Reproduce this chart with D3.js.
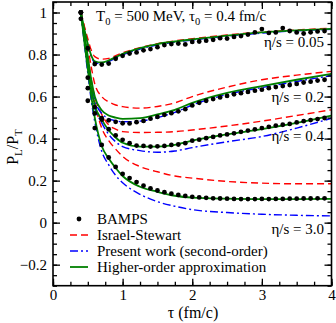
<!DOCTYPE html>
<html><head><meta charset="utf-8">
<script src="https://cdn.jsdelivr.net/npm/d3@7"></script>
<style>
html,body{margin:0;padding:0;background:#fff;}
text{font-family:"Liberation Serif","Times New Roman",serif;fill:#000;}
</style></head>
<body><svg id="c" width="336" height="323"></svg>
<script>
// ---- data ----
const curveTau = [0.4,0.45,0.5,0.55,0.6,0.7,0.8,0.9,1.0,1.25,1.5,1.75,2,2.5,3,3.5,4];
const green005 = [1,.92,.85,.795,.768,.762,.772,.788,.803,.83,.85,.862,.872,.89,.905,.915,.922];
const red005   = [1,.935,.875,.82,.79,.778,.782,.795,.808,.833,.852,.865,.875,.893,.907,.917,.925];
const blue005  = [1,.915,.845,.79,.762,.756,.766,.782,.798,.826,.846,.859,.869,.887,.902,.913,.92];
const green02  = [1,.9,.79,.68,.6,.535,.51,.5,.494,.497,.515,.537,.57,.618,.65,.68,.708];
const red02    = [1,.93,.84,.74,.66,.6,.575,.56,.552,.545,.553,.57,.6,.645,.68,.702,.72];
const blue02   = [1,.895,.78,.665,.585,.52,.495,.485,.48,.483,.5,.525,.56,.61,.643,.672,.7];
const green04  = [1,.88,.76,.64,.56,.49,.44,.405,.38,.362,.362,.37,.39,.42,.445,.475,.51];
const red04    = [1,.92,.8,.68,.6,.515,.465,.445,.433,.429,.43,.433,.441,.46,.483,.51,.537];
const blue04   = [1,.875,.75,.63,.55,.475,.42,.385,.362,.343,.335,.341,.357,.385,.41,.45,.497];
const green30  = [1,.86,.73,.6,.5,.365,.305,.26,.222,.171,.147,.128,.119,.114,.112,.112,.113];
const red30    = [1,.9,.78,.66,.57,.45,.39,.35,.315,.267,.242,.222,.212,.196,.188,.185,.185];
const blue30   = [1,.85,.71,.58,.48,.34,.275,.225,.19,.135,.1,.078,.062,.048,.04,.035,.032];

const bampsTau = [0.4,0.5,0.6,0.7,0.8,0.9,1.0,1.1,1.2,1.3,1.4,1.5,1.6,1.7,1.8,1.9,2.0,2.1,2.2,2.3,2.4,2.5,2.6,2.7,2.8,2.9,3.0,3.1,3.2,3.3,3.4,3.5,3.6,3.7,3.8,3.9];
const bamps005 = [1.0,.83,.755,.752,.757,.78,.794,.805,.81,.82,.826,.835,.845,.85,.852,.848,.86,.862,.866,.87,.878,.876,.884,.888,.895,.905,.921,.903,.905,.926,.912,.905,.9,.906,.91,.912];
const bamps02  = [.97,.69,.52,.497,.487,.48,.473,.472,.478,.484,.495,.503,.513,.521,.53,.54,.558,.57,.58,.588,.596,.603,.611,.616,.622,.628,.633,.64,.645,.65,.655,.66,.667,.671,.676,.68];
const bamps04  = [1.0,.64,.55,.49,.445,.415,.394,.378,.367,.365,.362,.363,.365,.37,.372,.378,.39,.395,.402,.408,.415,.42,.425,.432,.438,.444,.45,.456,.462,.466,.47,.477,.483,.488,.493,.498];
const bamps30  = [1.0,.58,.45,.37,.31,.265,.232,.212,.193,.176,.163,.153,.145,.138,.132,.127,.123,.12,.118,.116,.115,.114,.113,.112,.112,.112,.113,.112,.113,.113,.114,.114,.115,.115,.116,.116];

const groupLabels = ["η/s = 0.05","η/s = 0.2","η/s = 0.4","η/s = 3.0"];
const xTicks = [0,1,2,3,4];
const yTicks = [-0.2,0,0.2,0.4,0.6,0.8,1];
const legendNames = ["BAMPS","Israel-Stewart","Present work (second-order)","Higher-order approximation"];

// ---- chart ----
const svg = d3.select("#c");
const L=53, R=331.5, T=2, B=285.7;
const x = d3.scaleLinear().domain([0,4]).range([L,R]);
const y = d3.scaleLinear().domain([-0.3,1.05]).range([B,T]);
const RED="#ff0000", BLUE="#0000ff", GREEN="#008000";

const line = d3.line().x(d=>x(d[0])).y(d=>y(d[1])).curve(d3.curveMonotoneX);
const zipT = v => curveTau.map((t,i)=>[t,v[i]]);

const g = svg.append("g");
svg.append("clipPath").attr("id","pc").append("rect").attr("x",L).attr("y",T).attr("width",R-L).attr("height",B-T);
const plot = g.append("g").attr("clip-path","url(#pc)");

[red005,red02,red04,red30].forEach(v=>plot.append("path").attr("d",line(zipT(v))).attr("fill","none").attr("stroke",RED).attr("stroke-width",1.4).attr("stroke-dasharray","7,4"));
[blue005,blue02,blue04,blue30].forEach(v=>plot.append("path").attr("d",line(zipT(v))).attr("fill","none").attr("stroke",BLUE).attr("stroke-width",1.4).attr("stroke-dasharray","8,3,2,3"));
[green005,green02,green04,green30].forEach(v=>plot.append("path").attr("d",line(zipT(v))).attr("fill","none").attr("stroke",GREEN).attr("stroke-width",1.8));
[bamps005,bamps02,bamps04,bamps30].forEach(v=>{
  plot.selectAll(null).data(bampsTau.map((t,i)=>[t,v[i]])).enter().append("circle")
    .attr("cx",d=>x(d[0])).attr("cy",d=>y(d[1])).attr("r",2.4).attr("fill","#000");
});

// axes with inward ticks on all sides
const xMinor = d3.range(0,4.001,0.25);
const yMinor = d3.range(-0.3,1.051,0.05).map(v=>+v.toFixed(2));
const axB = d3.axisBottom(x).tickValues(xTicks).tickSize(-7).tickPadding(4).tickFormat(d3.format("d"));
const axT = d3.axisTop(x).tickValues(xTicks).tickSize(-7).tickFormat("");
const axL = d3.axisLeft(y).tickValues(yTicks).tickSize(-7).tickPadding(6).tickFormat(d=>d===1?"1":d===0?"0":d3.format(".1f")(d));
const axR = d3.axisRight(y).tickValues(yTicks).tickSize(-7).tickFormat("");
const mB = d3.axisBottom(x).tickValues(xMinor).tickSize(-4).tickFormat("");
const mT = d3.axisTop(x).tickValues(xMinor).tickSize(-4).tickFormat("");
const mL = d3.axisLeft(y).tickValues(yMinor).tickSize(-4).tickFormat("");
const mR = d3.axisRight(y).tickValues(yMinor).tickSize(-4).tickFormat("");
function style(sel){sel.selectAll("path").remove();sel.selectAll("line").attr("stroke","#000").attr("stroke-width",1.3);sel.selectAll("text").style("font-family",'"Liberation Serif","Times New Roman",serif').style("font-size","15px").attr("fill","#000");}
g.append("g").attr("transform",`translate(0,${B})`).call(axB).call(style);
g.append("g").attr("transform",`translate(0,${T})`).call(axT).call(style);
g.append("g").attr("transform",`translate(${L},0)`).call(axL).call(style);
g.append("g").attr("transform",`translate(${R},0)`).call(axR).call(style);
g.append("g").attr("transform",`translate(0,${B})`).call(mB).call(style);
g.append("g").attr("transform",`translate(0,${T})`).call(mT).call(style);
g.append("g").attr("transform",`translate(${L},0)`).call(mL).call(style);
g.append("g").attr("transform",`translate(${R},0)`).call(mR).call(style);
g.append("rect").attr("x",L).attr("y",T).attr("width",R-L).attr("height",B-T).attr("fill","none").attr("stroke","#000").attr("stroke-width",1.6);

// axis titles
svg.append("text").attr("x",193).attr("y",318).attr("text-anchor","middle").style("font-size","16px").text("τ (fm/c)");
const yt = svg.append("text").attr("transform","translate(18,147) rotate(-90)").attr("text-anchor","middle").style("font-size","16px");
yt.append("tspan").text("P");
yt.append("tspan").attr("dy",4).style("font-size","11px").text("L");
yt.append("tspan").attr("dy",-4).text("/P");
yt.append("tspan").attr("dy",4).style("font-size","11px").text("T");

// header
const hd = svg.append("text").attr("x",96).attr("y",21).style("font-size","15px");
hd.append("tspan").text("T");
hd.append("tspan").attr("dy",4).style("font-size","10.5px").text("0");
hd.append("tspan").attr("dy",-4).text(" = 500 MeV,  τ");
hd.append("tspan").attr("dy",4).style("font-size","10.5px").text("0");
hd.append("tspan").attr("dy",-4).text(" = 0.4 fm/c");

// group labels
const labelYpx = [47,102,141,234];
groupLabels.forEach((s,i)=>svg.append("text").attr("x",324).attr("y",labelYpx[i]).attr("text-anchor","end").style("font-size","15px").text(s));

// legend
const lx0=70, lx1=88, ltx=97, ly0=219;
legendNames.forEach((s,i)=>{
  const yy = ly0 + i*16;
  if(i===0) svg.append("circle").attr("cx",(lx0+lx1)/2).attr("cy",yy).attr("r",2.4).attr("fill","#000");
  else {
    const st = [null,{c:RED,d:"7,4",w:1.4},{c:BLUE,d:"8,3,2,3",w:1.4},{c:GREEN,d:null,w:1.8}][i];
    svg.append("line").attr("x1",lx0).attr("x2",lx1).attr("y1",yy).attr("y2",yy).attr("stroke",st.c).attr("stroke-width",st.w).attr("stroke-dasharray",st.d);
  }
  svg.append("text").attr("x",ltx).attr("y",yy+5).style("font-size","15px").text(s);
});
</script></body></html>
